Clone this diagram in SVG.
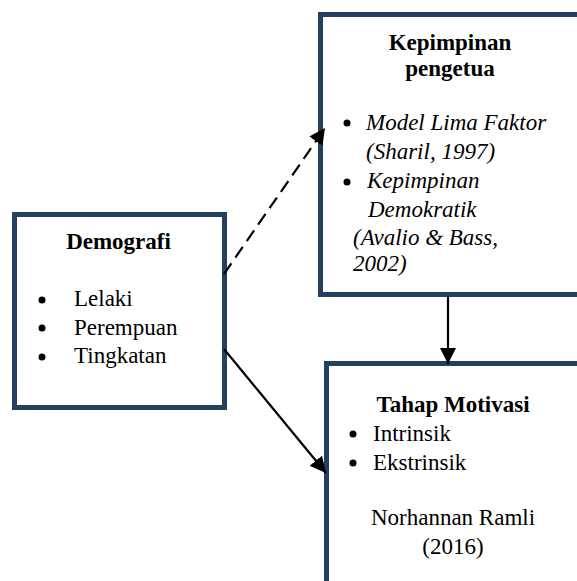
<svg xmlns="http://www.w3.org/2000/svg" width="577" height="581" viewBox="0 0 577 581" font-family="Liberation Serif">
<style>
.box{fill:#fff;stroke:#243F60;stroke-width:5}
.conn{stroke:#000;stroke-width:2.2;fill:none}
.dash{stroke-dasharray:13 7}
.dot{fill:#000}
</style>
<defs>
<marker id="ah" viewBox="0 0 16 16" refX="16" refY="8" markerWidth="16" markerHeight="16" markerUnits="userSpaceOnUse" orient="auto">
<path d="M0,0 L16,8 L0,16 z" fill="#000"/>
</marker>
</defs>
<g id="kepimpinan">
<rect class="box" x="320.5" y="14.5" width="300" height="280"/>
<text x="450" y="50" style="font-family:'Liberation Serif',serif;font-size:23px;font-weight:bold;text-anchor:middle">Kepimpinan</text>
<text x="450" y="76" style="font-family:'Liberation Serif',serif;font-size:23px;font-weight:bold;text-anchor:middle">pengetua</text>
<circle class="dot" cx="347" cy="123" r="3.5"/>
<text x="366" y="130" style="font-family:'Liberation Serif',serif;font-size:23px;font-style:italic">Model Lima Faktor</text>
<text x="366" y="159" style="font-family:'Liberation Serif',serif;font-size:23px;font-style:italic">(Sharil, 1997)</text>
<circle class="dot" cx="347" cy="182" r="3.5"/>
<text x="367" y="188" style="font-family:'Liberation Serif',serif;font-size:23px;font-style:italic">Kepimpinan</text>
<text x="368" y="217" style="font-family:'Liberation Serif',serif;font-size:23px;font-style:italic">Demokratik</text>
<text x="353" y="245" style="font-family:'Liberation Serif',serif;font-size:23px;font-style:italic">(Avalio &amp; Bass,</text>
<text x="353" y="271" style="font-family:'Liberation Serif',serif;font-size:23px;font-style:italic">2002)</text>
</g>
<g id="demografi">
<rect class="box" x="14.5" y="214.5" width="210" height="193"/>
<text x="118.5" y="249" style="font-family:'Liberation Serif',serif;font-size:23px;font-weight:bold;text-anchor:middle">Demografi</text>
<circle class="dot" cx="42" cy="300" r="3.5"/>
<text x="74" y="306" style="font-family:'Liberation Serif',serif;font-size:23px">Lelaki</text>
<circle class="dot" cx="42" cy="328" r="3.5"/>
<text x="74" y="335" style="font-family:'Liberation Serif',serif;font-size:23px">Perempuan</text>
<circle class="dot" cx="42" cy="357" r="3.5"/>
<text x="74" y="363" style="font-family:'Liberation Serif',serif;font-size:23px">Tingkatan</text>
</g>
<g id="motivasi">
<rect class="box" x="326.5" y="363.5" width="300" height="250"/>
<text x="453" y="412" style="font-family:'Liberation Serif',serif;font-size:23px;font-weight:bold;text-anchor:middle">Tahap Motivasi</text>
<circle class="dot" cx="353" cy="434" r="3.5"/>
<text x="373" y="441" style="font-family:'Liberation Serif',serif;font-size:23px">Intrinsik</text>
<circle class="dot" cx="353" cy="463" r="3.5"/>
<text x="373" y="470" style="font-family:'Liberation Serif',serif;font-size:23px">Ekstrinsik</text>
<text x="453" y="525" style="font-family:'Liberation Serif',serif;font-size:23px;text-anchor:middle">Norhannan Ramli</text>
<text x="453" y="554" style="font-family:'Liberation Serif',serif;font-size:23px;text-anchor:middle">(2016)</text>
</g>
<g id="connectors">
<line class="conn dash" x1="224" y1="274" x2="325" y2="128" marker-end="url(#ah)"/>
<line class="conn" x1="448" y1="297" x2="448" y2="364" marker-end="url(#ah)"/>
<line class="conn" x1="224" y1="349" x2="326" y2="473" marker-end="url(#ah)"/>
</g>
</svg>
